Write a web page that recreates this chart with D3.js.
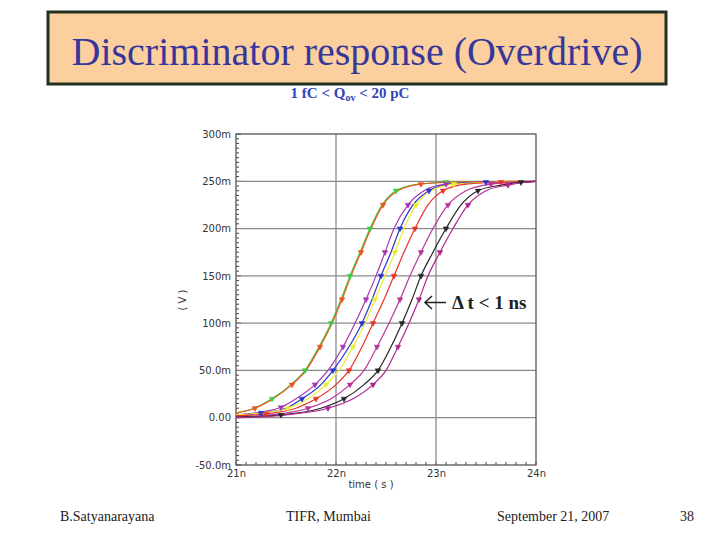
<!DOCTYPE html>
<html><head><meta charset="utf-8">
<script src="https://cdn.jsdelivr.net/npm/d3@7"></script>
<style>html,body{margin:0;padding:0;background:#fff;}svg{display:block;}</style>
</head><body>
<svg id="chart" width="720" height="540"></svg>
<script>
// ---- data (time in ns, voltage in mV) ----
const yTickValues = [-50, 0, 50, 100, 150, 200, 250, 300];
const yTickLabels = ["-50.0m", "0.00", "50.0m", "100m", "150m", "200m", "250m", "300m"];
const xTickValues = [21, 22, 23, 24];
const xTickLabels = ["21n", "22n", "23n", "24n"];

const greenCurve = [[21.0,5],[21.18,10],[21.36,20],[21.55,35],[21.69,50],[21.83,75],[21.95,100],[22.05,125],[22.14,150],[22.24,175],[22.34,200],[22.46,225],[22.60,240],[22.82,247],[23.10,249],[24.0,250]];
const orangeCurve = [[21.0,5],[21.19,10],[21.37,20],[21.56,35],[21.70,50],[21.84,75],[21.96,100],[22.06,125],[22.15,150],[22.25,175],[22.35,200],[22.47,225],[22.62,240],[22.85,247],[23.15,249],[24.0,250]];
const violetCurve = [[21.0,3],[21.25,6],[21.45,11],[21.60,20],[21.79,35],[21.92,50],[22.07,75],[22.19,100],[22.30,125],[22.40,150],[22.49,175],[22.58,200],[22.72,225],[22.88,240],[23.10,247],[23.45,249],[24.0,250]];
const blueCurve = [[21.0,2],[21.25,5],[21.50,10],[21.66,20],[21.85,35],[21.97,50],[22.13,75],[22.26,100],[22.36,125],[22.45,150],[22.55,175],[22.64,200],[22.77,225],[22.93,240],[23.15,247],[23.50,249],[24.0,250]];
const yellowCurve = [[21.0,3],[21.25,5],[21.52,10],[21.72,20],[21.90,35],[22.03,50],[22.17,75],[22.29,100],[22.39,125],[22.49,150],[22.59,175],[22.68,200],[22.80,225],[22.95,240],[23.18,247],[23.55,249],[24.0,250]];
const redCurve = [[21.0,2],[21.30,4],[21.60,10],[21.80,20],[22.00,35],[22.13,50],[22.26,75],[22.37,100],[22.48,125],[22.58,150],[22.68,175],[22.79,200],[22.92,225],[23.07,240],[23.30,247],[23.65,249],[24.0,250]];
const magentaCurve = [[21.0,1],[21.35,3],[21.72,10],[21.95,20],[22.14,35],[22.28,50],[22.41,75],[22.53,100],[22.64,125],[22.74,150],[22.85,175],[22.97,200],[23.12,225],[23.30,240],[23.55,247],[23.80,249],[24.0,250]];
const blackCurve = [[21.0,0.5],[21.45,3],[21.85,10],[22.08,20],[22.28,35],[22.42,50],[22.55,75],[22.66,100],[22.76,125],[22.85,150],[22.97,175],[23.10,200],[23.25,225],[23.42,240],[23.65,246],[23.85,249],[24.0,250]];
const purpleCurve = [[21.0,0],[21.50,3],[21.92,10],[22.17,20],[22.37,35],[22.50,50],[22.62,75],[22.73,100],[22.83,125],[22.92,150],[23.04,175],[23.17,200],[23.32,225],[23.50,240],[23.72,246],[23.90,249],[24.0,250]];

const seriesList = [greenCurve, orangeCurve, violetCurve, blueCurve, yellowCurve, redCurve, magentaCurve, blackCurve, purpleCurve];
const seriesColors = ["#3fcc3f", "#e8561e", "#a536b5", "#2a35cc", "#ecec2e", "#ea3324", "#b8359c", "#262626", "#b0258e"];

// ---- drawing ----
const svg = d3.select("#chart");

// title box
svg.append("rect").attr("x", 48).attr("y", 12).attr("width", 618).attr("height", 72)
  .attr("fill", "#fccf9f").attr("stroke", "#1f321f").attr("stroke-width", 3);
svg.append("text").attr("x", 357).attr("y", 65).attr("text-anchor", "middle")
  .attr("font-family", "Liberation Serif, Times New Roman, serif").attr("font-size", 40)
  .attr("fill", "#37379b").text("Discriminator response (Overdrive)");

// subtitle
const sub = svg.append("text").attr("x", 350).attr("y", 98).attr("text-anchor", "middle")
  .attr("font-family", "Liberation Serif, Times New Roman, serif").attr("font-size", 15)
  .attr("font-weight", "bold").attr("fill", "#3344bb");
sub.append("tspan").text("1 fC < Q");
sub.append("tspan").attr("font-size", 10).attr("dy", 3).text("ov");
sub.append("tspan").attr("dy", -3).text(" < 20 pC");

const pLeft = 236, pRight = 536, pTop = 134, pBottom = 465;
const x = d3.scaleLinear().domain([21, 24]).range([pLeft, pRight]);
const y = d3.scaleLinear().domain([-50, 300]).range([pBottom, pTop]);

// minor ticks
const g = svg.append("g");
const yMinor = d3.range(-50, 300.1, 5);
g.selectAll("line.ym").data(yMinor).enter().append("line")
  .attr("x1", pLeft).attr("x2", d => pLeft + (d % 50 === 0 ? 5 : 3))
  .attr("y1", d => y(d)).attr("y2", d => y(d))
  .attr("stroke", "#444").attr("stroke-width", 1);
const xMinor = d3.range(21, 24.001, 0.1);
g.selectAll("line.xm").data(xMinor).enter().append("line")
  .attr("x1", d => x(d)).attr("x2", d => x(d))
  .attr("y1", pBottom).attr("y2", pBottom - 3)
  .attr("stroke", "#444").attr("stroke-width", 1);

// grid
g.selectAll("line.gy").data(yTickValues.filter(v => v > -50 && v < 300)).enter().append("line")
  .attr("x1", pLeft).attr("x2", pRight).attr("y1", d => y(d)).attr("y2", d => y(d))
  .attr("stroke", "#8a8a8a").attr("stroke-width", 1.3);
g.selectAll("line.gx").data(xTickValues.filter(v => v > 21 && v < 24)).enter().append("line")
  .attr("x1", d => x(d)).attr("x2", d => x(d)).attr("y1", pTop).attr("y2", pBottom)
  .attr("stroke", "#8a8a8a").attr("stroke-width", 1.3);

// frame
svg.append("rect").attr("x", pLeft).attr("y", pTop).attr("width", pRight - pLeft).attr("height", pBottom - pTop)
  .attr("fill", "none").attr("stroke", "#555").attr("stroke-width", 1.3);

// axes (labels only)
const yAxis = d3.axisLeft(y).tickValues(yTickValues).tickSize(0).tickPadding(5)
  .tickFormat((d, i) => yTickLabels[i]);
const ya = svg.append("g").attr("transform", `translate(${pLeft},0)`).call(yAxis);
ya.select(".domain").remove();
ya.selectAll("text").attr("font-family", "DejaVu Sans, sans-serif").attr("font-size", 10).attr("fill", "#333");

const xAxis = d3.axisBottom(x).tickValues(xTickValues).tickSize(0).tickPadding(5)
  .tickFormat((d, i) => xTickLabels[i]);
const xa = svg.append("g").attr("transform", `translate(0,${pBottom})`).call(xAxis);
xa.select(".domain").remove();
xa.selectAll("text").attr("font-family", "DejaVu Sans, sans-serif").attr("font-size", 10).attr("fill", "#333");

svg.append("text").attr("x", 371).attr("y", 488).attr("text-anchor", "middle")
  .attr("font-family", "DejaVu Sans, sans-serif").attr("font-size", 10).attr("fill", "#333")
  .attr("xml:space", "preserve").text("time ( s )");
svg.append("text").attr("transform", "translate(186,300) rotate(-90)").attr("text-anchor", "middle")
  .attr("font-family", "DejaVu Sans, sans-serif").attr("font-size", 10).attr("fill", "#333")
  .attr("xml:space", "preserve").text("( V )");

// curves
const line = d3.line().x(d => x(d[0])).y(d => y(d[1])).curve(d3.curveMonotoneX);
const plot = svg.append("g");
seriesList.forEach((s, i) => {
  plot.append("path").datum(s).attr("d", line).attr("fill", "none")
    .attr("stroke", seriesColors[i]).attr("stroke-width", 1.2);
});
// markers
const tri = d3.symbol().type(d3.symbolTriangle).size(14);
seriesList.forEach((s, i) => {
  const pts = s.filter((d, j) => j > 0 && j < s.length - 1 && j % 2 === (i % 2));
  plot.selectAll(null).data(pts).enter().append("path")
    .attr("d", tri)
    .attr("transform", d => `translate(${x(d[0])},${y(d[1])}) rotate(180)`)
    .attr("fill", seriesColors[i]).attr("stroke", seriesColors[i]).attr("stroke-width", 0.5);
});

// annotation
const ann = svg.append("g");
ann.append("line").attr("x1", 425).attr("x2", 446).attr("y1", 302.5).attr("y2", 302.5)
  .attr("stroke", "#222").attr("stroke-width", 1.5);
ann.append("path").attr("d", "M432,296 L425,302.5 L432,309").attr("fill", "none")
  .attr("stroke", "#222").attr("stroke-width", 1.5);
ann.append("text").attr("x", 452).attr("y", 308.5)
  .attr("font-family", "Liberation Serif, Times New Roman, serif").attr("font-size", 19)
  .attr("font-weight", "bold").attr("fill", "#222").text("Δ t < 1 ns");

// footer
const foot = [["B.Satyanarayana", 60, "start"], ["TIFR, Mumbai", 286, "start"], ["September 21, 2007", 497, "start"], ["38", 694, "end"]];
svg.selectAll("text.foot").data(foot).enter().append("text")
  .attr("x", d => d[1]).attr("y", 521).attr("text-anchor", d => d[2])
  .attr("font-family", "Liberation Serif, Times New Roman, serif").attr("font-size", 14)
  .attr("fill", "#222").text(d => d[0]);
</script>
</body></html>
